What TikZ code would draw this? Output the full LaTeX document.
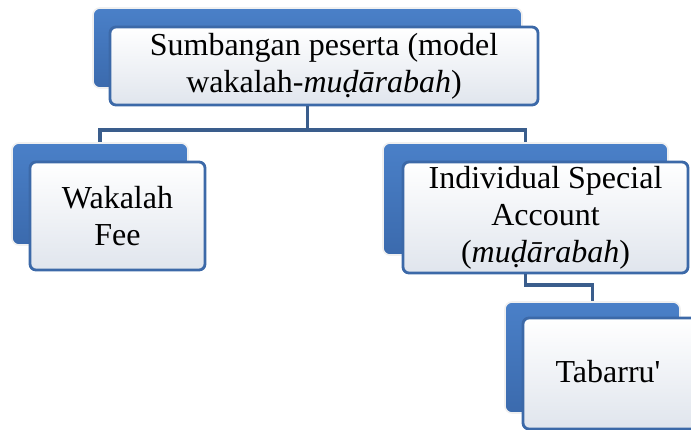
\documentclass[tikz,border=0pt]{standalone}
\usepackage{fontspec}
\setmainfont{Liberation Serif}
\definecolor{backblue}{HTML}{4A80C8}
\definecolor{backblueD}{HTML}{3B6AAD}
\definecolor{frontedge}{HTML}{3C69A8}
\definecolor{frontbot}{HTML}{E0E5ED}
\definecolor{linkblue}{HTML}{3A5D8C}
\tikzset{
  backbox/.style={rectangle, rounded corners=7pt, top color=backblue, bottom color=backblueD,
    draw=white!88!gray, line width=1.6pt, inner sep=0pt},
  frontbox/.style={rectangle, rounded corners=6pt, top color=white, bottom color=frontbot,
    draw=frontedge, line width=2.8pt, inner sep=0pt, align=center,
    font=\fontsize{32}{37}\selectfont},
  link/.style={draw=linkblue, line width=3.2pt}
}
\begin{document}
\begin{tikzpicture}[x=1pt,y=-1pt]
\useasboundingbox (0,0) rectangle (691,430);
\begin{scope}
\clip (0,0) rectangle (691,430);
% root
\node[backbox, minimum width=429pt, minimum height=80pt] (topback) at (307.5,48) {};
\node[frontbox, minimum width=428pt, minimum height=78pt] (top) at (324,66)
  {Sumbangan peserta (model\\wakalah-\textit{muḍārabah})};
% wakalah fee
\node[backbox, minimum width=176pt, minimum height=102pt] (wfback) at (100,194) {};
\node[frontbox, minimum width=175pt, minimum height=108pt] (wf) at (117.5,216)
  {Wakalah\\Fee};
% individual special account
\node[backbox, minimum width=285pt, minimum height=112pt] (isaback) at (525.5,199) {};
\node[frontbox, minimum width=285pt, minimum height=111pt] (isa) at (545.5,217.5)
  {Individual Special\\Account\\(\textit{muḍārabah})};
% tabarru'
\node[backbox, minimum width=175pt, minimum height=111pt] (tbback) at (592.5,357.5) {};
\node[frontbox, minimum width=177pt, minimum height=111pt] (tb) at (611.5,373.5) {};
\node[font=\fontsize{32}{37}\selectfont] (tbtext) at (608,372) {Tabarru\textquotesingle};
% connectors
\coordinate (split1) at (307.5,130);
\coordinate (split2) at (525.5,285);
\draw[link] (topback |- top.south) -- (split1);
\draw[link] (split1) -| (wfback.north);
\draw[link] (split1) -| (isaback.north);
\draw[link] (isaback |- isa.south) -- (split2) -| (tbback.north);
\end{scope}
\end{tikzpicture}
\end{document}
